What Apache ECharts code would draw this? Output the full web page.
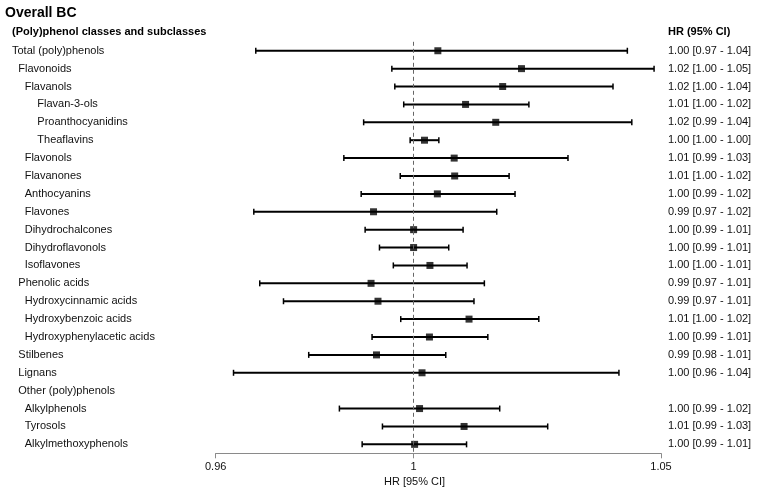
<!DOCTYPE html>
<html>
<head>
<meta charset="utf-8">
<script src="https://cdn.jsdelivr.net/npm/echarts@6/dist/echarts.min.js"></script>
<style>html,body{margin:0;padding:0;background:#fff;}#c{width:759px;height:496px;}</style>
</head>
<body>
<div id="c"></div>
<script>
const categories = ["Total (poly)phenols","Flavonoids","Flavanols","Flavan-3-ols","Proanthocyanidins","Theaflavins","Flavonols","Flavanones","Anthocyanins","Flavones","Dihydrochalcones","Dihydroflavonols","Isoflavones","Phenolic acids","Hydroxycinnamic acids","Hydroxybenzoic acids","Hydroxyphenylacetic acids","Stilbenes","Lignans","Other (poly)phenols","Alkylphenols","Tyrosols","Alkylmethoxyphenols"];
const levels = [0,1,2,3,3,3,2,2,2,2,2,2,2,1,2,2,2,1,1,1,2,2,2];
const hr    = [1.0049,1.0218,1.0180,1.0105,1.0166,1.0022,1.0082,1.0083,1.0048,0.9919,1.0000,1.0000,1.0033,0.9914,0.9928,1.0112,1.0032,0.9925,1.0017,null,1.0012,1.0102,1.0002];
const lower = [0.9681,0.9956,0.9962,0.9980,0.9899,0.9993,0.9859,0.9973,0.9894,0.9677,0.9902,0.9931,0.9959,0.9689,0.9737,0.9974,0.9916,0.9788,0.9636,null,0.9850,0.9937,0.9896];
const upper = [1.0432,1.0486,1.0403,1.0233,1.0441,1.0051,1.0312,1.0193,1.0205,1.0168,1.0100,1.0071,1.0108,1.0143,1.0122,1.0253,1.0150,1.0065,1.0415,null,1.0174,1.0271,1.0107];
const hrText = ["1.00 [0.97 - 1.04]","1.02 [1.00 - 1.05]","1.02 [1.00 - 1.04]","1.01 [1.00 - 1.02]","1.02 [0.99 - 1.04]","1.00 [1.00 - 1.00]","1.01 [0.99 - 1.03]","1.01 [1.00 - 1.02]","1.00 [0.99 - 1.02]","0.99 [0.97 - 1.02]","1.00 [0.99 - 1.01]","1.00 [0.99 - 1.01]","1.00 [1.00 - 1.01]","0.99 [0.97 - 1.01]","0.99 [0.97 - 1.01]","1.01 [1.00 - 1.02]","1.00 [0.99 - 1.01]","0.99 [0.98 - 1.01]","1.00 [0.96 - 1.04]","","1.00 [0.99 - 1.02]","1.01 [0.99 - 1.03]","1.00 [0.99 - 1.01]"];
const xTicks = [0.96, 1, 1.05];

const FONT = "'Liberation Sans', Arial, sans-serif";
const chart = echarts.init(document.getElementById('c'));

const ciData = [], ptData = [];
categories.forEach((c, i) => {
  if (hr[i] != null) {
    ciData.push([lower[i], upper[i], i]);
    ptData.push([hr[i], i]);
  }
});

const indent = [0, 6.3, 12.7, 25.3];
const rich = {};
indent.forEach((p, k) => { rich['l' + k] = { padding: [0, 0, 0, p], fontSize: 11, fontFamily: FONT, color: '#111' }; });

chart.setOption({
  animation: false,
  backgroundColor: '#fff',
  title: [
    { text: 'Overall BC', left: 5, top: 6, padding: 0, textStyle: { fontFamily: FONT, fontWeight: 'bold', fontSize: 14, color: '#000' } },
    { text: '(Poly)phenol classes and subclasses', left: 12, top: 26, padding: 0, textStyle: { fontFamily: FONT, fontWeight: 'bold', fontSize: 11, color: '#000' } },
    { text: 'HR (95% CI)', left: 668, top: 26, padding: 0, textStyle: { fontFamily: FONT, fontWeight: 'bold', fontSize: 11, color: '#000' } }
  ],
  graphic: [
    { type: 'text', left: 384, top: 476, style: { text: 'HR [95% CI]', font: '11px ' + FONT, fill: '#111' } }
  ],
  grid: { left: 215.7, right: 98, top: 41.8, bottom: 42.7 },
  xAxis: {
    type: 'value', min: 0.96, max: 1.05,
    axisLine: { show: true, lineStyle: { color: '#8a8a8a', width: 1 } },
    axisTick: { show: true, customValues: xTicks, length: 5, lineStyle: { color: '#8a8a8a' } },
    axisLabel: { customValues: xTicks, margin: 8, fontSize: 11, fontFamily: FONT, color: '#111', formatter: v => String(+(+v).toFixed(2)) },
    splitLine: { show: false }
  },
  yAxis: [
    {
      type: 'category', data: categories, inverse: true, position: 'left',
      axisLine: { show: false }, axisTick: { show: false }, splitLine: { show: false },
      axisLabel: { align: 'left', margin: 203.7, interval: 0, rich: rich,
        formatter: (v, i) => '{l' + levels[i] + '|' + v + '}' }
    },
    {
      type: 'category', data: hrText, inverse: true, position: 'right',
      axisLine: { show: false }, axisTick: { show: false }, splitLine: { show: false },
      axisLabel: { align: 'left', margin: 7, interval: 0, fontSize: 11, fontFamily: FONT, color: '#111' }
    }
  ],
  series: [
    {
      type: 'custom', yAxisIndex: 0, data: ciData, encode: { x: [0, 1], y: 2 },
      renderItem: (params, api) => {
        const y = api.value(2);
        const a = api.coord([api.value(0), y]);
        const b = api.coord([api.value(1), y]);
        const st = { stroke: '#000', lineWidth: 2 };
        const cap = 3;
        return { type: 'group', children: [
          { type: 'line', shape: { x1: a[0], y1: a[1], x2: b[0], y2: b[1] }, style: st },
          { type: 'line', shape: { x1: a[0], y1: a[1] - cap, x2: a[0], y2: a[1] + cap }, style: { stroke: '#000', lineWidth: 1.5 } },
          { type: 'line', shape: { x1: b[0], y1: b[1] - cap, x2: b[0], y2: b[1] + cap }, style: { stroke: '#000', lineWidth: 1.5 } }
        ] };
      },
      z: 2
    },
    {
      type: 'scatter', yAxisIndex: 0, data: ptData, symbol: 'rect', symbolSize: 7,
      itemStyle: { color: '#000' }, z: 3,
      markLine: { silent: true, symbol: 'none', label: { show: false },
        lineStyle: { type: [4, 3], color: '#666', width: 1 },
        data: [{ xAxis: 1 }] }
    }
  ]
});
</script>
</body>
</html>
